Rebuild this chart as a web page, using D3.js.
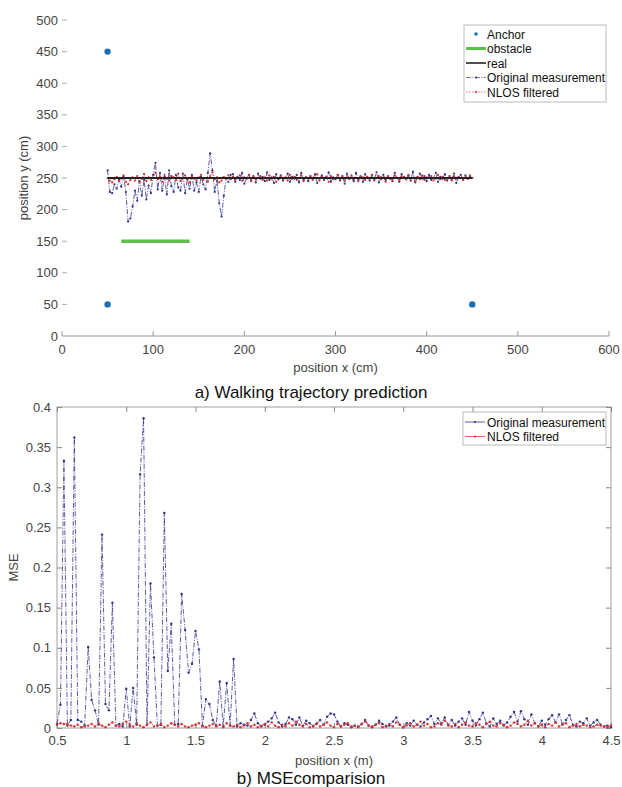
<!DOCTYPE html>
<html>
<head>
<meta charset="utf-8">
<script src="https://cdn.jsdelivr.net/npm/d3@7"></script>
<style>
  body { margin: 0; background: #fff; }
  text { font-family: "Liberation Sans", Arial, sans-serif; }
</style>
</head>
<body>
<div id="chart"></div>
<script>
// ---- data ----
// sample positions along the walk (cm), one every 2.5 cm from 50 to 450
var posCm = d3.range(50, 450.1, 2.5);
var posM = posCm.map(function(d) { return d / 100; });

var anchorsX = [50, 50, 450];
var anchorsY = [450, 50, 50];

var obstacleX = [65, 140];
var obstacleY = [150, 150];

var realX = [50, 450];
var realY = [250, 250];

var measuredY = [
  262,228,226,240,233,248,236,252,228,181,186,205,230,214,245,222,247,216,238,226,
  255,274,232,258,230,252,224,262,237,228,255,235,230,257,226,248,233,255,230,243,
  228,252,240,232,258,289,262,228,246,210,189,222,250,244,255,
  256,244,252,247,258,241,250,255,246,253,243,257,249,252,245,259,247,251,242,256,
  248,254,246,250,257,244,252,249,255,243,258,247,251,245,253,249,256,242,250,254,
  247,252,259,244,251,248,255,246,253,241,257,249,250,245,258,247,252,244,256,250,
  246,254,248,259,243,251,255,247,253,249,245,258,250,244,256,252,248,254,246,260,
  243,251,257,249,253,245,255,247,250,258,244,252,249,256,246,253,248,257,242,251,
  255,247,254,249,252,250
];

var filteredY = [
  250,246,243,248,252,245,249,254,244,240,247,251,246,253,243,249,256,245,251,247,
  250,258,248,252,244,255,249,246,253,251,247,257,245,250,254,248,243,252,249,246,
  251,255,247,250,244,253,259,248,251,243,246,252,249,254,248,
  252,247,250,254,246,251,249,255,245,252,248,250,253,247,251,246,254,249,252,244,
  250,253,248,251,246,255,249,252,247,250,254,245,251,249,253,247,250,256,246,252,
  249,251,244,253,248,250,255,247,252,246,251,249,254,248,250,245,253,251,247,252,
  249,255,246,250,253,248,251,244,252,249,247,254,250,246,253,251,248,255,249,250,
  245,252,248,254,247,251,250,253,246,249,255,248,252,247,250,251,246,253,249,252,
  250,247,251,249,254,250
];

var mseMeasured = [
  0.005,0.029,0.333,0.003,0.010,0.362,0.010,0.008,0.003,0.101,0.035,0.022,0.004,0.241,0.030,0.022,0.156,0.003,0.005,0.002,
  0.049,0.002,0.050,0.004,0.316,0.386,0.004,0.180,0.088,0.003,0.004,0.268,0.071,0.130,0.004,0.005,0.167,0.122,0.069,0.080,
  0.121,0.098,0.003,0.036,0.030,0.010,0.003,0.058,0.002,0.056,0.003,0.086,0.002,0.006,0.004,
  0.003,0.010,0.018,0.006,0.002,0.004,0.008,0.012,0.019,0.007,0.002,0.005,0.013,0.011,0.004,0.013,0.003,0.009,0.006,0.002,
  0.005,0.010,0.004,0.014,0.018,0.017,0.008,0.002,0.006,0.004,0.001,0.003,0.002,0.005,0.010,0.003,0.001,0.004,0.009,0.005,
  0.002,0.003,0.008,0.013,0.004,0.001,0.006,0.003,0.009,0.004,0.002,0.007,0.011,0.015,0.005,0.012,0.006,0.013,0.004,0.010,
  0.003,0.008,0.012,0.004,0.020,0.009,0.003,0.011,0.019,0.006,0.002,0.012,0.005,0.009,0.003,0.007,0.014,0.020,0.008,0.021,
  0.011,0.004,0.017,0.006,0.002,0.009,0.004,0.011,0.016,0.007,0.017,0.005,0.010,0.016,0.004,0.002,0.008,0.006,0.012,0.003,
  0.007,0.010,0.004,0.002,0.003,0.001
];

var mseFiltered = [
  0.004,0.006,0.005,0.005,0.003,0.002,0.004,0.001,0.002,0.003,0.005,0.002,0.006,0.003,0.001,0.004,0.007,0.003,0.002,0.005,
  0.008,0.004,0.002,0.006,0.003,0.001,0.004,0.007,0.002,0.003,0.005,0.001,0.003,0.006,0.004,0.002,0.005,0.002,0.001,0.003,
  0.004,0.006,0.002,0.001,0.003,0.005,0.002,0.004,0.001,0.006,0.003,0.002,0.004,0.001,0.003,
  0.006,0.002,0.004,0.001,0.003,0.005,0.002,0.007,0.003,0.001,0.004,0.002,0.006,0.003,0.008,0.004,0.002,0.005,0.001,0.003,
  0.006,0.002,0.004,0.007,0.003,0.001,0.005,0.002,0.004,0.006,0.002,0.003,0.001,0.005,0.008,0.003,0.002,0.004,0.006,0.001,
  0.003,0.005,0.002,0.007,0.004,0.001,0.003,0.006,0.002,0.004,0.008,0.003,0.005,0.001,0.002,0.006,0.004,0.009,0.003,0.002,
  0.005,0.001,0.004,0.007,0.003,0.002,0.006,0.004,0.001,0.005,0.008,0.003,0.002,0.006,0.004,0.001,0.003,0.007,0.005,0.002,
  0.004,0.009,0.003,0.006,0.002,0.004,0.001,0.005,0.003,0.007,0.002,0.004,0.006,0.001,0.003,0.005,0.002,0.004,0.003,0.001,
  0.002,0.004,0.003,0.002,0.001,0.003
];

var topXTicks = [0, 100, 200, 300, 400, 500, 600];
var topYTicks = [0, 50, 100, 150, 200, 250, 300, 350, 400, 450, 500];
var botXTicks = [0.5, 1, 1.5, 2, 2.5, 3, 3.5, 4, 4.5];
var botYTicks = [0, 0.05, 0.1, 0.15, 0.2, 0.25, 0.3, 0.35, 0.4];

var topLegend = ["Anchor", "obstacle", "real", "Original measurement", "NLOS filtered"];
var botLegend = ["Original measurement", "NLOS filtered"];

// colours
var cAnchor = "#1f6fae", cObst = "#5cc04a", cReal = "#222", cMeas = "#34348e", cFilt = "#d8312c";

var svg = d3.select("#chart").append("svg").attr("width", 622).attr("height", 787);

// ================= top chart =================
var xTop = d3.scaleLinear().domain([0, 600]).range([62, 609]);
var yTop = d3.scaleLinear().domain([0, 500]).range([336, 20]);

var gTop = svg.append("g");

// x axis line + ticks (ticks point up, into the plot)
gTop.append("line").attr("x1", xTop(0)).attr("x2", xTop(600))
    .attr("y1", yTop(0)).attr("y2", yTop(0)).attr("stroke", "#999").attr("stroke-width", 1);
gTop.selectAll(".xt").data(topXTicks).enter().append("line")
    .attr("x1", d => xTop(d)).attr("x2", d => xTop(d))
    .attr("y1", yTop(0)).attr("y2", yTop(0) - 5).attr("stroke", "#999");
gTop.selectAll(".xl").data(topXTicks).enter().append("text")
    .attr("x", d => xTop(d)).attr("y", yTop(0) + 18)
    .attr("text-anchor", "middle").attr("font-size", 13).attr("fill", "#444")
    .text(d => d);

gTop.selectAll(".yt").data(topYTicks.slice(1)).enter().append("line")
    .attr("x1", xTop(0)).attr("x2", xTop(0) + 5)
    .attr("y1", d => yTop(d)).attr("y2", d => yTop(d)).attr("stroke", "#aaa");
gTop.selectAll(".yl").data(topYTicks).enter().append("text")
    .attr("x", xTop(0) - 4).attr("y", d => yTop(d) + 4.5)
    .attr("text-anchor", "end").attr("font-size", 13).attr("fill", "#444")
    .text(d => d);

gTop.append("text").attr("transform", "translate(28," + yTop(250) + ") rotate(-90)")
    .attr("text-anchor", "middle").attr("font-size", 13).attr("fill", "#444")
    .text("position y (cm)");
gTop.append("text").attr("x", xTop(300)).attr("y", 372)
    .attr("text-anchor", "middle").attr("font-size", 13).attr("fill", "#444")
    .text("position x (cm)");
gTop.append("text").attr("x", 311).attr("y", 398)
    .attr("text-anchor", "middle").attr("font-size", 17).attr("fill", "#111")
    .text("a) Walking trajectory prediction");

// obstacle
gTop.append("line").attr("x1", xTop(obstacleX[0])).attr("x2", xTop(obstacleX[1]))
    .attr("y1", yTop(obstacleY[0])).attr("y2", yTop(obstacleY[1]))
    .attr("stroke", cObst).attr("stroke-width", 3.5);

// measurement + filtered
var lineTop = d3.line().x(d => xTop(d[0])).y(d => yTop(d[1]));
var measPts = posCm.map((x, i) => [x, measuredY[i]]);
var filtPts = posCm.map((x, i) => [x, filteredY[i]]);

gTop.append("path").attr("d", lineTop(measPts)).attr("fill", "none")
    .attr("stroke", cMeas).attr("stroke-width", 0.8).attr("stroke-dasharray", "5,1.5,1,1.5");
gTop.selectAll(".mp").data(measPts).enter().append("circle")
    .attr("cx", d => xTop(d[0])).attr("cy", d => yTop(d[1])).attr("r", 1.1).attr("fill", cMeas);

gTop.append("path").attr("d", lineTop(filtPts)).attr("fill", "none")
    .attr("stroke", cFilt).attr("stroke-width", 0.8).attr("stroke-dasharray", "1.5,1.5");
gTop.selectAll(".fp").data(filtPts).enter().append("circle")
    .attr("cx", d => xTop(d[0])).attr("cy", d => yTop(d[1])).attr("r", 1.1).attr("fill", cFilt);

// real path
gTop.append("line").attr("x1", xTop(realX[0])).attr("x2", xTop(realX[1]))
    .attr("y1", yTop(realY[0])).attr("y2", yTop(realY[1]))
    .attr("stroke", cReal).attr("stroke-width", 2);

// anchors
gTop.selectAll(".an").data(anchorsX).enter().append("circle")
    .attr("cx", d => xTop(d)).attr("cy", (d, i) => yTop(anchorsY[i])).attr("r", 3.2).attr("fill", cAnchor);

// legend
var lgT = gTop.append("g").attr("transform", "translate(464,25)");
lgT.append("rect").attr("width", 142).attr("height", 77).attr("fill", "#fff").attr("stroke", "#bbb");
topLegend.forEach(function(name, i) {
  var y = 9 + i * 14.5;
  var row = lgT.append("g").attr("transform", "translate(0," + y + ")");
  if (i === 0) {
    row.append("circle").attr("cx", 12).attr("cy", 0).attr("r", 1.8).attr("fill", cAnchor);
  } else if (i === 1) {
    row.append("line").attr("x1", 2).attr("x2", 22).attr("stroke", cObst).attr("stroke-width", 3);
  } else if (i === 2) {
    row.append("line").attr("x1", 2).attr("x2", 22).attr("stroke", cReal).attr("stroke-width", 1.6);
  } else {
    var c = i === 3 ? cMeas : cFilt;
    row.append("line").attr("x1", 2).attr("x2", 22).attr("stroke", c).attr("stroke-width", 0.7)
       .attr("stroke-dasharray", i === 3 ? "5,1.5,1,1.5" : "1.5,1.5");
    row.append("circle").attr("cx", 12).attr("r", 1.1).attr("fill", c);
  }
  row.append("text").attr("x", 23).attr("y", 4.5).attr("font-size", 12).attr("fill", "#111").text(name);
});

// ================= bottom chart =================
var xBot = d3.scaleLinear().domain([0.5, 4.5]).range([57, 611]);
var yBot = d3.scaleLinear().domain([0, 0.4]).range([728, 407]);

var gBot = svg.append("g");

gBot.append("rect").attr("x", xBot(0.5)).attr("y", yBot(0.4))
    .attr("width", xBot(4.5) - xBot(0.5)).attr("height", yBot(0) - yBot(0.4))
    .attr("fill", "none").attr("stroke", "#888").attr("stroke-width", 0.8);

var axB = d3.axisBottom(xBot).tickValues(botXTicks).tickSizeInner(-5).tickSizeOuter(0)
    .tickPadding(8).tickFormat(d3.format("~g"));
var axT = d3.axisTop(xBot).tickValues(botXTicks).tickSizeInner(-5).tickSizeOuter(0).tickFormat("");
var axL = d3.axisLeft(yBot).tickValues(botYTicks).tickSizeInner(-5).tickSizeOuter(0)
    .tickPadding(6).tickFormat(d3.format("~g"));
var axR = d3.axisRight(yBot).tickValues(botYTicks).tickSizeInner(-5).tickSizeOuter(0).tickFormat("");

[[axB, "translate(0," + yBot(0) + ")"], [axT, "translate(0," + yBot(0.4) + ")"],
 [axL, "translate(" + xBot(0.5) + ",0)"], [axR, "translate(" + xBot(4.5) + ",0)"]].forEach(function(a) {
  var g = gBot.append("g").attr("transform", a[1]).call(a[0]);
  g.select(".domain").remove();
  g.selectAll("line").attr("stroke", "#888");
  g.selectAll("text").attr("font-size", 13).attr("fill", "#444")
   .attr("font-family", "Liberation Sans, Arial, sans-serif");
});

gBot.append("text").attr("transform", "translate(18," + yBot(0.2) + ") rotate(-90)")
    .attr("text-anchor", "middle").attr("font-size", 13).attr("fill", "#444").text("MSE");
gBot.append("text").attr("x", xBot(2.5)).attr("y", 765)
    .attr("text-anchor", "middle").attr("font-size", 13).attr("fill", "#444").text("position x (m)");
gBot.append("text").attr("x", 311).attr("y", 784)
    .attr("text-anchor", "middle").attr("font-size", 17).attr("fill", "#111").text("b) MSEcomparision");

var lineBot = d3.line().x(d => xBot(d[0])).y(d => yBot(d[1]));
var mMeas = posM.map((x, i) => [x, mseMeasured[i]]);
var mFilt = posM.map((x, i) => [x, mseFiltered[i]]);

gBot.append("path").attr("d", lineBot(mMeas)).attr("fill", "none")
    .attr("stroke", cMeas).attr("stroke-width", 0.8).attr("stroke-dasharray", "5,1.5,1,1.5");
gBot.selectAll(".bm").data(mMeas).enter().append("circle")
    .attr("cx", d => xBot(d[0])).attr("cy", d => yBot(d[1])).attr("r", 1.2).attr("fill", cMeas);
gBot.append("path").attr("d", lineBot(mFilt)).attr("fill", "none")
    .attr("stroke", cFilt).attr("stroke-width", 0.8).attr("stroke-dasharray", "1.5,1.5");
gBot.selectAll(".bf").data(mFilt).enter().append("circle")
    .attr("cx", d => xBot(d[0])).attr("cy", d => yBot(d[1])).attr("r", 1.2).attr("fill", cFilt);

var lgB = gBot.append("g").attr("transform", "translate(463,412)");
lgB.append("rect").attr("width", 143).attr("height", 33).attr("fill", "#fff").attr("stroke", "#bbb");
botLegend.forEach(function(name, i) {
  var c = i === 0 ? cMeas : cFilt;
  var row = lgB.append("g").attr("transform", "translate(0," + (10 + i * 14.5) + ")");
  row.append("line").attr("x1", 2).attr("x2", 22).attr("stroke", c).attr("stroke-width", 0.8);
  row.append("circle").attr("cx", 12).attr("r", 1.1).attr("fill", c);
  row.append("text").attr("x", 24).attr("y", 4.5).attr("font-size", 12).attr("fill", "#111").text(name);
});
</script>
</body>
</html>
